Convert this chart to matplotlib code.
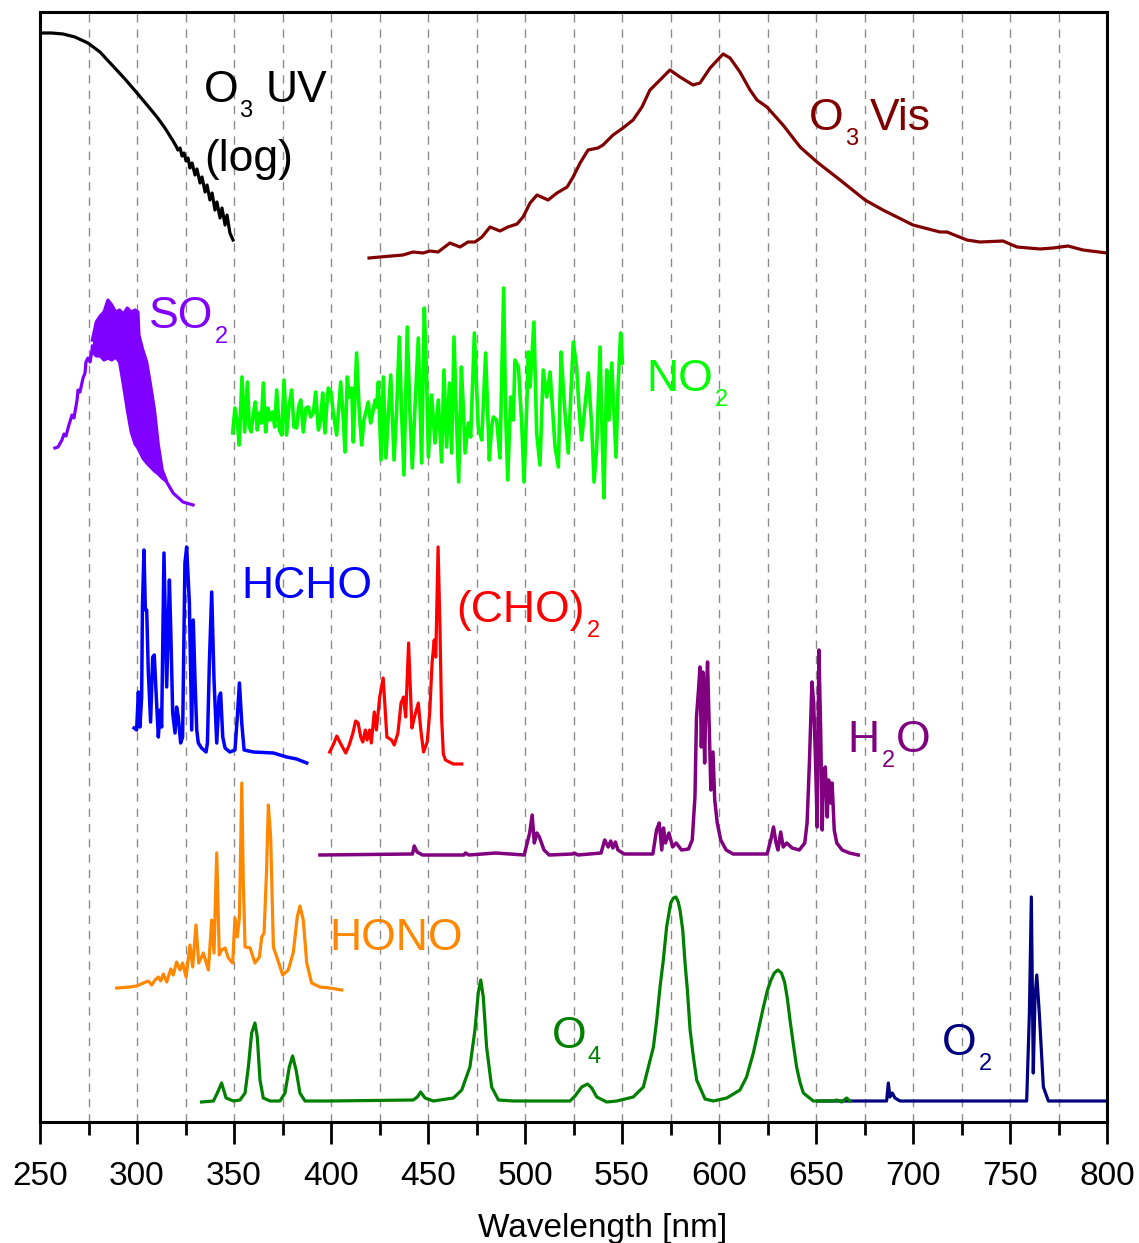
import numpy as np
import matplotlib
matplotlib.use('Agg')
import matplotlib.pyplot as plt
from matplotlib.transforms import IdentityTransform

# Absorption cross sections, scaled and offset for display (arbitrary units)
# each entry: (wavelength nm, offset value)
o3_uv = [(250, 1089), (256, 1089), (261.9, 1088), (268.0, 1085), (274.7, 1079), (280.9, 1070),
         (287.6, 1056), (293.8, 1043), (300.0, 1029), (305.2, 1017), (310.3, 1005), (314.4, 994),
         (318.6, 981), (320.1, 976), (321.1, 972), (322.2, 974), (323.2, 966), (324.2, 969),
         (325.3, 961), (326.3, 964), (327.3, 954), (328.4, 959), (329.9, 947), (330.9, 953),
         (332.5, 939), (333.5, 945), (335.1, 930), (336.1, 937), (337.6, 922), (338.7, 929),
         (340.2, 912), (341.2, 920), (342.8, 904), (343.8, 914), (345.4, 897), (346.4, 907),
         (347.9, 889), (349.5, 882)]

o3_vis = [(419.6, 864), (425.3, 865), (437.1, 867), (442.3, 870), (447.4, 869), (451.0, 871),
          (455.2, 870), (461.3, 879), (466.5, 875), (470.6, 880), (474.2, 880), (477.8, 885),
          (482.0, 895), (487.1, 891), (491.2, 895), (495.9, 898), (499.0, 905), (502.6, 919),
          (506.2, 927), (511.9, 922), (516.5, 929), (521.7, 935), (524.8, 945), (528.4, 959),
          (532.5, 972), (537.6, 974), (540.2, 977), (545.4, 987), (550.5, 994), (555.7, 1002),
          (560.3, 1015), (564.4, 1032), (569.6, 1042), (574.7, 1052), (579.9, 1045), (586.6, 1037),
          (590.2, 1039), (595.4, 1054), (602.1, 1068), (605.7, 1064), (610.8, 1050), (616.0, 1032),
          (619.6, 1022), (624.7, 1015), (633.0, 997), (641.8, 975), (650.5, 960), (662.4, 942),
          (675.3, 922), (684.5, 912), (700.0, 897), (713.9, 890), (717.5, 890), (727.8, 882),
          (734.5, 880), (746.4, 881), (753.6, 875), (765.5, 873), (772.2, 874), (779.9, 876),
          (787.6, 872), (800.0, 869)]

so2_left = [(257.7, 674), (259.3, 675), (261.3, 682), (262.4, 688), (263.4, 686), (264.9, 697),
            (266.5, 707), (267.5, 704), (269.1, 722), (269.6, 732), (270.6, 730), (272.2, 744),
            (273.2, 749), (273.7, 760), (274.7, 764), (275.8, 760), (276.8, 772), (277.0, 776)]
# dense vibronic band, drawn as upper/lower envelope
so2_band_wl = [277, 279, 281, 283, 285, 287, 289, 291, 293, 295, 297, 299, 300.5, 301,
               303, 305, 307, 309, 311, 313, 315]
so2_band_hi = [782, 800, 806, 810, 822, 817, 810, 812, 808, 814, 810, 812, 810, 787,
               772, 760, 737, 712, 677, 652, 642]
so2_band_lo = [770, 766, 766, 762, 764, 762, 765, 760, 737, 712, 690, 678, 674, 672,
               664, 659, 655, 651, 648, 644, 641]
so2_right = [(315, 641), (318.6, 629), (323.7, 620), (328.9, 617)]

no2 = [(349.3, 689), (350.5, 714), (351.7, 699), (352.7, 677), (354.1, 745), (355.5, 690),
       (356.9, 740), (357.9, 695), (358.9, 690), (360.0, 709), (361.0, 720), (362.0, 692),
       (363.1, 709), (364.1, 699), (365.1, 739), (366.3, 690), (367.5, 714), (368.6, 702),
       (369.8, 710), (371.0, 695), (372.0, 732), (373.4, 692), (374.6, 687), (375.8, 742),
       (377.1, 687), (378.3, 715), (379.7, 732), (380.9, 695), (382.3, 694), (383.3, 715),
       (384.4, 722), (385.7, 690), (387.1, 714), (388.3, 715), (389.5, 705), (390.9, 709),
       (392.1, 730), (393.5, 692), (394.7, 702), (395.7, 729), (396.9, 689), (397.8, 715),
       (398.6, 734), (400.0, 730), (401.2, 709), (402.9, 687), (404.0, 715), (405.0, 740),
       (406.4, 702), (407.2, 670), (408.4, 745), (409.4, 725), (410.7, 734), (411.5, 680),
       (413.2, 769), (414.6, 709), (415.8, 677), (417.0, 702), (418.0, 710), (419.2, 720),
       (420.4, 699), (421.5, 709), (422.7, 722), (423.5, 715), (424.4, 740), (425.8, 662),
       (427.0, 745), (428.3, 664), (429.6, 709), (430.8, 747), (432.5, 662), (433.8, 709),
       (435.2, 785), (436.4, 709), (437.6, 647), (439.3, 795), (440.7, 709), (441.9, 654),
       (443.3, 715), (445.0, 784), (446.7, 659), (448.1, 814), (449.3, 742), (450.2, 665),
       (451.9, 727), (453.6, 679), (455.3, 722), (457.0, 660), (458.2, 752), (459.6, 675),
       (461.0, 739), (462.2, 669), (463.4, 785), (464.6, 709), (465.8, 640), (467.2, 755),
       (468.2, 715), (469.1, 669), (470.8, 699), (472.0, 685), (473.9, 789), (475.1, 732),
       (475.9, 695), (477.7, 682), (479.7, 769), (480.8, 709), (481.6, 662), (482.8, 695),
       (483.7, 705), (485.4, 702), (487.1, 664), (489.0, 834), (490.0, 709), (491.1, 642),
       (492.6, 725), (494.0, 702), (494.8, 762), (496.6, 755), (498.3, 699), (499.5, 640),
       (500.9, 715), (501.7, 770), (502.6, 735), (504.6, 800), (506.0, 689), (507.7, 657),
       (509.4, 752), (511.2, 725), (512.9, 750), (514.6, 702), (515.5, 675), (517.2, 655),
       (518.6, 770), (519.8, 732), (520.6, 709), (522.3, 669), (523.5, 722), (524.9, 780),
       (526.6, 755), (528.0, 709), (529.2, 682), (530.9, 715), (532.6, 749), (534.4, 695),
       (535.6, 640), (536.9, 672), (538.7, 775), (539.7, 692), (540.7, 624), (542.1, 752),
       (543.3, 702), (544.7, 759), (545.9, 709), (546.9, 665), (548.1, 742), (549.3, 789),
       (550.2, 759)]

hcho = [(298.5, 394), (299.8, 392), (300.7, 430), (301.5, 395), (302.4, 425), (302.8, 515),
        (303.6, 572), (304.3, 512), (305.0, 512), (305.8, 452), (307.0, 400), (308.1, 465),
        (308.9, 467), (310.1, 419), (311.0, 385), (311.9, 412), (312.7, 395), (313.9, 569),
        (315.3, 435), (316.7, 542), (317.4, 492), (318.4, 409), (319.6, 389), (320.4, 415),
        (321.3, 405), (322.5, 379), (323.5, 385), (324.7, 559), (325.6, 575), (327.0, 519),
        (328.2, 392), (329.0, 502), (329.9, 442), (330.8, 392), (331.6, 379), (333.3, 374),
        (335.6, 370), (336.3, 379), (337.3, 459), (338.5, 530), (339.7, 442), (341.1, 379),
        (342.3, 425), (343.1, 429), (344.2, 385), (345.4, 374), (347.9, 370), (350.5, 372),
        (351.7, 405), (352.8, 439), (354.0, 399), (355.2, 372), (360.0, 370), (370.3, 369),
        (377.1, 365), (382.3, 363), (387.5, 359)]

glyoxal = [(399.3, 370), (401.1, 377), (403.0, 386), (404.8, 379), (407.6, 369), (409.4, 377),
           (411.3, 389), (412.7, 401), (414.0, 399), (415.3, 385), (416.4, 380), (417.7, 392),
           (418.6, 382), (419.9, 392), (420.8, 379), (422.3, 410), (423.4, 392), (425.1, 425),
           (426.9, 444), (428.8, 385), (431.2, 382), (432.6, 377), (434.5, 389), (436.1, 419),
           (437.4, 425), (438.5, 405), (440.0, 479), (441.7, 394), (442.9, 404), (445.0, 419),
           (446.3, 392), (447.7, 370), (449.6, 380), (450.9, 410), (452.1, 459), (453.2, 482),
           (454.0, 465), (455.2, 575), (456.2, 492), (457.0, 405), (457.9, 368), (459.0, 362),
           (461.0, 360), (463.0, 358), (467.4, 358)]

h2o = [(394.3, 267), (442.0, 268), (442.9, 276), (444.4, 270), (447.2, 267), (468.5, 267),
       (469.3, 269), (471.1, 267), (484.9, 269), (499.6, 267), (502.4, 289), (503.7, 307),
       (504.8, 279), (506.1, 289), (507.4, 285), (509.8, 272), (512.5, 267), (524.5, 268),
       (525.4, 269), (527.3, 267), (539.2, 269), (541.1, 282), (542.9, 275), (544.2, 281),
       (545.3, 274), (546.6, 280), (547.9, 272), (551.2, 268), (565.9, 268), (567.8, 292),
       (569.2, 299), (570.5, 272), (571.4, 294), (572.4, 279), (574.2, 289), (576.1, 275),
       (577.9, 279), (580.7, 272), (584.3, 273), (586.2, 282), (587.6, 325), (588.4, 405),
       (589.5, 434), (590.2, 455), (590.9, 375), (591.7, 450), (592.6, 359), (593.2, 419),
       (594.1, 460), (595.0, 392), (595.8, 332), (596.9, 370), (597.8, 322), (599.1, 299),
       (600.9, 282), (603.7, 272), (607.3, 268), (624.8, 268), (626.7, 282), (628.1, 295),
       (629.4, 279), (630.4, 272), (631.8, 290), (633.1, 275), (634.9, 279), (637.7, 274),
       (641.4, 272), (644.2, 279), (645.4, 299), (646.6, 359), (647.9, 440), (648.8, 419),
       (649.7, 365), (650.6, 295), (651.5, 472), (652.4, 392), (653.2, 292), (653.9, 352),
       (654.8, 355), (655.8, 305), (656.5, 342), (657.6, 319), (658.3, 339), (659.4, 292),
       (660.7, 279), (663.5, 272), (667.2, 269), (671.8, 267)]

hono = [(289.5, 134), (296.4, 135), (299.8, 136), (303.3, 139), (305.8, 141), (307.6, 137),
        (309.3, 142), (311.0, 145), (312.2, 141), (313.6, 148), (315.3, 140), (317.4, 153),
        (318.7, 147), (320.4, 160), (322.2, 152), (323.5, 159), (325.3, 145), (327.3, 177),
        (328.7, 155), (330.4, 197), (331.8, 159), (334.2, 169), (336.8, 152), (338.5, 202),
        (339.7, 169), (341.1, 269), (342.4, 167), (343.6, 172), (345.4, 174), (347.1, 164),
        (349.3, 159), (350.5, 204), (351.7, 185), (352.8, 205), (354.0, 339), (354.8, 239),
        (355.7, 175), (358.3, 174), (360.8, 159), (363.1, 165), (364.3, 185), (365.5, 189),
        (366.8, 252), (367.7, 317), (368.9, 285), (370.3, 175), (372.9, 160), (375.1, 147),
        (378.0, 152), (380.6, 170), (382.6, 205), (384.0, 216), (385.7, 202), (387.5, 159),
        (390.0, 139), (394.3, 135), (399.5, 134), (405.5, 132)]

o4 = [(333.3, 20), (339.4, 21), (341.4, 29), (343.6, 39), (345.9, 24), (349.7, 21), (353.1, 22),
      (355.7, 29), (357.4, 55), (359.1, 89), (360.8, 99), (362.0, 85), (363.4, 42), (365.1, 24),
      (368.6, 21), (373.7, 21), (376.3, 29), (378.5, 55), (380.2, 66), (382.0, 52), (384.0, 29),
      (386.6, 21), (399.5, 21), (442.4, 22), (444.5, 25), (446.2, 30), (448.5, 24), (452.8, 21),
      (463.1, 24), (467.4, 32), (471.6, 55), (474.2, 92), (475.9, 129), (477.2, 142),
      (478.5, 125), (480.2, 75), (482.8, 35), (486.3, 22), (494.0, 21), (523.2, 21), (525.8, 26),
      (529.2, 35), (532.2, 38), (534.4, 34), (537.0, 25), (542.1, 20), (547.3, 21), (555.8, 25),
      (561.0, 35), (566.2, 75), (567.9, 102), (569.6, 135), (571.3, 162), (573.0, 195),
      (575.1, 219), (576.5, 224), (577.8, 225), (579.0, 220), (579.9, 212), (581.3, 192),
      (582.5, 159), (583.7, 132), (585.1, 92), (586.8, 65), (588.5, 42), (592.8, 23),
      (597.1, 21), (604.0, 24), (610.8, 32), (614.2, 45), (617.7, 69), (620.3, 92), (622.9, 115),
      (625.0, 132), (626.8, 142), (628.5, 149), (630.4, 152), (632.2, 149), (633.8, 140),
      (635.2, 124), (636.6, 102), (638.3, 78), (640.0, 55), (641.7, 40), (643.5, 29),
      (648.6, 21), (658.9, 21), (660.6, 22), (663.2, 20), (665.8, 24), (667.5, 21)]

o2 = [(651.2, 21), (686.4, 21), (687.3, 39), (688.1, 25), (689.3, 29), (690.7, 24), (693.3, 21),
      (758.6, 21), (760.0, 109), (761.0, 225), (762.0, 49), (762.9, 125), (763.8, 147),
      (765.1, 109), (767.2, 35), (769.8, 21), (800.0, 21)]

# label text pieces: (text, is_subscript, gap before in px)
labels = [
    ([('O', 0, 0), ('3', 1, 1), ('UV', 0, 13)], 334.5, 1020, 'black'),
    ([('(log)', 0, 0)], 334.5, 951, 'black'),
    ([('O', 0, 0), ('3', 1, 1), ('Vis', 0, 12)], 646.5, 992, '#800000'),
    ([('SO', 0, 0), ('2', 1, 2)], 306.0, 794, '#8000FF'),
    ([('NO', 0, 0), ('2', 1, 2)], 562.5, 731, '#00FF00'),
    ([('HCHO', 0, 0)], 354.0, 524, '#0000FF'),
    ([('(CHO)', 0, 0), ('2', 1, 2)], 464.5, 500, '#FF0000'),
    ([('H', 0, 0), ('2', 1, 3), ('O', 0, 1)], 666.0, 370, '#800080'),
    ([('HONO', 0, 0)], 399.0, 172, '#FF8800'),
    ([('O', 0, 0), ('4', 1, 1)], 514.0, 74, '#008000'),
    ([('O', 0, 0), ('2', 1, 2)], 715.0, 67, '#000080'),
]


def chem_label(ax, parts, x, y, color):
    # chain text pieces so subscripts sit right after their symbol
    renderer = ax.figure.canvas.get_renderer()
    cx, cy = ax.transData.transform((x, y))
    for txt, sub, gap in parts:
        cx += gap
        t = ax.text(cx, cy - (15 if sub else 0), txt, transform=IdentityTransform(),
                    fontsize=17 if sub else 32, color=color, ha='left', va='baseline')
        cx = t.get_window_extent(renderer).x1


def main():
    plt.rcParams['font.family'] = ['Liberation Sans', 'DejaVu Sans']

    fig = plt.figure(figsize=(11.39, 12.43), dpi=100)
    ax = fig.add_axes([40 / 1139, 121 / 1243, 1067 / 1139, 1110 / 1243])
    ax.set_xlim(250, 800)
    ax.set_ylim(0, 1110)

    for g in np.arange(275, 800, 25):
        ax.axvline(g, color='#8c8c8c', lw=1.0, dashes=(6, 5), zorder=0.5)

    def draw(series, color, lw=2.3):
        a = np.array(series).T
        ax.plot(a[0], a[1], color=color, lw=lw, solid_joinstyle='round', zorder=2)

    draw(o3_uv, 'black')
    draw(o3_vis, '#800000')
    draw(so2_left, '#8000FF')
    ax.fill_between(so2_band_wl, so2_band_lo, so2_band_hi, color='#8000FF', lw=0, zorder=2)
    ax.plot(so2_band_wl, so2_band_hi, color='#8000FF', lw=2.3, zorder=2)
    ax.plot(so2_band_wl, so2_band_lo, color='#8000FF', lw=2.3, zorder=2)
    draw(so2_right, '#8000FF')
    draw(no2, '#00FF00', 2.6)
    draw(hcho, '#0000FF', 2.5)
    draw(glyoxal, '#FF0000')
    draw(h2o, '#800080', 2.5)
    draw(hono, '#FF8800')
    draw(o2, '#000080')
    draw(o4, '#008000')

    for parts, x, y, color in labels:
        chem_label(ax, parts, x, y, color)

    for s in ax.spines.values():
        s.set_linewidth(2.2)
    ax.set_yticks([])
    ax.set_xticks(np.arange(250, 801, 50))
    ax.set_xticks(np.arange(275, 800, 50), minor=True)
    ax.tick_params(axis='x', which='major', direction='out', length=16, width=2.0,
                   labelsize=24, pad=12)
    ax.tick_params(axis='x', which='minor', direction='out', length=9, width=2.0)
    ax.set_xlabel('Wavelength [nm]', fontsize=24)
    ax.xaxis.set_label_coords(0.527, -0.082)

    fig.savefig('out.png', dpi=100)


if __name__ == "__main__":
    main()
